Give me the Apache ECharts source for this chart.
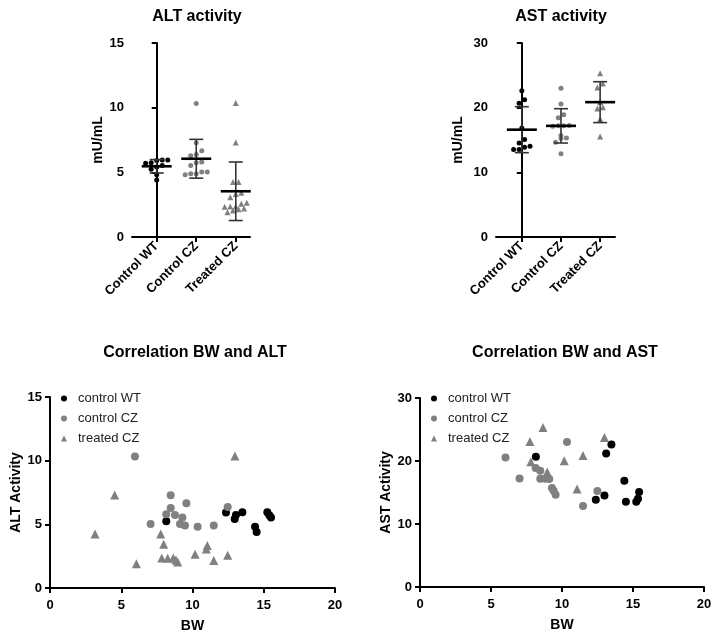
<!DOCTYPE html>
<html><head><meta charset="utf-8">
<script src="https://cdn.jsdelivr.net/npm/echarts@6/dist/echarts.min.js"></script>
<style>html,body{margin:0;padding:0;background:#fff}#c{width:715px;height:639px}</style>
</head><body><div id="c"></div>
<script>
// ---------- data ----------
const groupLabels = ['Control WT', 'Control CZ', 'Treated CZ'];
const seriesNames = ['control WT', 'control CZ', 'treated CZ'];

// ALT activity (mU/mL) with body weight
const bwAltWT = [8.16, 12.35, 13.05, 12.96, 13.5, 15.25, 15.39, 15.51, 14.39, 14.5];
const altWT   = [5.24, 5.92, 5.74, 5.42, 5.95, 5.95, 5.71, 5.53, 4.82, 4.40];
const bwAltCZ = [5.96, 8.47, 9.57, 8.47, 8.16, 8.77, 9.29, 7.06, 9.12, 9.47, 10.36, 11.49, 12.47];
const altCZ   = [10.32, 7.29, 6.66, 6.29, 5.79, 5.74, 5.53, 5.03, 5.03, 4.90, 4.82, 4.90, 6.37];
const bwAltTr = [4.54, 3.16, 7.77, 7.98, 11.04, 10.97, 10.18, 7.84, 8.26, 8.65, 8.84, 8.96, 11.49, 6.06, 12.98, 12.47];
const altTr   = [7.31, 4.25, 4.25, 3.43, 3.33, 3.07, 2.65, 2.36, 2.33, 2.36, 2.2, 2.04, 2.15, 1.91, 10.37, 2.57];

// AST activity (mU/mL) with body weight
const bwAstWT = [8.16, 13.48, 13.11, 14.39, 15.43, 12.99, 12.38, 14.5, 15.35, 15.23];
const astWT   = [20.68, 22.63, 21.21, 16.87, 15.07, 14.54, 13.86, 13.54, 14.02, 13.54];
const bwAstCZ = [10.35, 6.02, 8.14, 8.47, 7.01, 8.47, 8.8, 9.1, 9.29, 9.41, 9.55, 12.49, 11.48];
const astCZ   = [23.0, 20.57, 18.89, 18.46, 17.24, 17.19, 17.19, 17.14, 15.71, 15.29, 14.65, 15.23, 12.86];
const bwAstTr = [8.66, 7.74, 7.81, 10.16, 8.96, 12.99, 11.48, 11.06];
const astTr   = [25.33, 23.11, 19.89, 20.05, 18.25, 23.75, 20.89, 15.55];

const altTicks = [0, 5, 10, 15];
const astTicks = [0, 10, 20, 30];
const bwTicks  = [0, 5, 10, 15, 20];

// ---------- helpers ----------
const FONT = '"Liberation Sans", Arial, Helvetica, sans-serif';
const colors = ['#000000', '#808080', '#808080'];
const symbols = ['circle', 'circle', 'triangle'];

function meanSd(a) {
  const m = a.reduce((s, v) => s + v, 0) / a.length;
  const sd = Math.sqrt(a.reduce((s, v) => s + (v - m) * (v - m), 0) / (a.length - 1));
  return [m, sd];
}
// GraphPad-like symmetric row spreading computed from the values
function swarm(idx, vals, binVal, step) {
  const order = vals.map((v, i) => [v, i]).sort((a, b) => a[0] - b[0]);
  const out = [];
  let row = [];
  const flush = () => {
    row.forEach((p, k) => out.push([idx + (k - (row.length - 1) / 2) * step, p[0]]));
    row = [];
  };
  order.forEach(p => {
    if (row.length && p[0] - row[0][0] > binVal) flush();
    row.push(p);
  });
  flush();
  return out;
}
function pairs(xs, ys) { return xs.map((x, i) => [x, ys[i]]); }

const altGroups = [altWT, altCZ, altTr];
const astGroups = [astWT, astCZ, astTr];

function yAxisCommon(ticks, name, gap, gridIndex, nameSize) {
  return {
    type: 'value', gridIndex, min: ticks[0], max: ticks[ticks.length - 1],
    interval: ticks[1] - ticks[0],
    name, nameLocation: 'middle', nameGap: gap, nameRotate: 90,
    nameTextStyle: { fontFamily: FONT, fontWeight: 'bold', fontSize: nameSize, color: '#000' },
    axisLine: { show: true, lineStyle: { color: '#000', width: 2 } },
    axisTick: { show: true, length: 5, lineStyle: { color: '#000', width: 2 } },
    axisLabel: { fontFamily: FONT, fontWeight: 'bold', fontSize: 13, color: '#000', margin: 8 },
    splitLine: { show: false }
  };
}
function catXAxis(gridIndex, min, max) {
  return {
    type: 'value', gridIndex, min, max,
    axisLine: { show: true, onZero: false, lineStyle: { color: '#000', width: 2 } },
    axisTick: { show: true, length: 5, customValues: [0, 1, 2], lineStyle: { color: '#000', width: 2 } },
    axisLabel: {
      customValues: [0, 1, 2], rotate: 45, margin: 7,
      formatter: v => groupLabels[Math.round(v)] || '',
      fontFamily: FONT, fontWeight: 'bold', fontSize: 13, color: '#000'
    },
    splitLine: { show: false }
  };
}
function bwXAxis(gridIndex) {
  return {
    type: 'value', gridIndex, min: bwTicks[0], max: bwTicks[bwTicks.length - 1],
    interval: bwTicks[1] - bwTicks[0],
    name: 'BW', nameLocation: 'middle', nameGap: 31,
    nameTextStyle: { fontFamily: FONT, fontWeight: 'bold', fontSize: 14, color: '#000' },
    axisLine: { show: true, onZero: false, lineStyle: { color: '#000', width: 2 } },
    axisTick: { show: true, length: 5, lineStyle: { color: '#000', width: 2 } },
    axisLabel: { fontFamily: FONT, fontWeight: 'bold', fontSize: 13, color: '#000', margin: 11 },
    splitLine: { show: false }
  };
}

const series = [];
function dotPlot(groupsVals, axisIdx, binVal) {
  groupsVals.forEach((vals, g) => {
    series.push({
      type: 'scatter', xAxisIndex: axisIdx, yAxisIndex: axisIdx, z: 2,
      symbol: symbols[g], symbolSize: g === 2 ? 6 : 5,
      itemStyle: { color: colors[g], opacity: 1 }, silent: true,
      data: swarm(g, vals, binVal, 0.14)
    });
  });
  series.push({
    type: 'custom', xAxisIndex: axisIdx, yAxisIndex: axisIdx, z: 5, silent: true,
    data: groupsVals.map((vals, g) => { const [m, sd] = meanSd(vals); return [g, m, sd]; }),
    renderItem: (params, api) => {
      const x = api.value(0), m = api.value(1), sd = api.value(2);
      const c = api.coord([x, m]), t = api.coord([x, m + sd]), b = api.coord([x, m - sd]);
      const es = { stroke: '#333', lineWidth: 1.6 };
      return {
        type: 'group', children: [
          { type: 'line', shape: { x1: c[0], y1: t[1], x2: c[0], y2: b[1] }, style: es },
          { type: 'line', shape: { x1: c[0] - 7, y1: t[1], x2: c[0] + 7, y2: t[1] }, style: es },
          { type: 'line', shape: { x1: c[0] - 7, y1: b[1], x2: c[0] + 7, y2: b[1] }, style: es },
          { type: 'line', shape: { x1: c[0] - 15, y1: c[1], x2: c[0] + 15, y2: c[1] }, style: { stroke: '#000', lineWidth: 2.6 } }
        ]
      };
    }
  });
}
dotPlot(altGroups, 0, 0.38);
dotPlot(astGroups, 1, 0.78);

const altScatter = [pairs(bwAltWT, altWT), pairs(bwAltCZ, altCZ), pairs(bwAltTr, altTr)];
const astScatter = [pairs(bwAstWT, astWT), pairs(bwAstCZ, astCZ), pairs(bwAstTr, astTr)];
[[altScatter, 2], [astScatter, 3]].forEach(([sets, ai]) => {
  sets.forEach((d, g) => {
    series.push({
      name: seriesNames[g], type: 'scatter', xAxisIndex: ai, yAxisIndex: ai,
      symbol: symbols[g], symbolSize: g === 2 ? 9 : 8,
      itemStyle: { color: colors[g], opacity: 1 }, data: d
    });
  });
});

function legend(left, top) {
  return {
    orient: 'vertical', left, top, itemGap: 7, itemWidth: 6, itemHeight: 6,
    data: seriesNames.map((n, g) => ({ name: n, icon: symbols[g] })),
    textStyle: { fontFamily: FONT, fontSize: 13, color: '#222', padding: [0, 0, 0, 6] },
    selectedMode: false
  };
}
function title(text, left, top) {
  return { text, left, top, textAlign: 'center',
    textStyle: { fontFamily: FONT, fontWeight: 'bold', fontSize: 16, color: '#000' } };
}

const chart = echarts.init(document.getElementById('c'), null, { renderer: 'canvas' });
chart.setOption({
  backgroundColor: '#fff',
  animation: false,
  title: [
    title('ALT activity', 192, 4),
    title('AST activity', 556, 4),
    title('Correlation BW and ALT', 190, 340),
    title('Correlation BW and AST', 560, 340)
  ],
  legend: [legend(56, 387), legend(426, 387)],
  grid: [
    { left: 132, top: 43, width: 118, height: 194 },
    { left: 496, top: 43, width: 119, height: 194 },
    { left: 50, top: 397, width: 285, height: 191 },
    { left: 420, top: 398, width: 284, height: 189 }
  ],
  xAxis: [catXAxis(0, -0.625, 2.36), catXAxis(1, -0.66, 2.38), bwXAxis(2), bwXAxis(3)],
  yAxis: [
    yAxisCommon(altTicks, 'mU/mL', 19, 0, 14),
    yAxisCommon(astTicks, 'mU/mL', 31, 1, 14),
    yAxisCommon(altTicks, 'ALT Activity', 25, 2, 14),
    yAxisCommon(astTicks, 'AST Activity', 23, 3, 14)
  ],
  series
});
</script></body></html>
